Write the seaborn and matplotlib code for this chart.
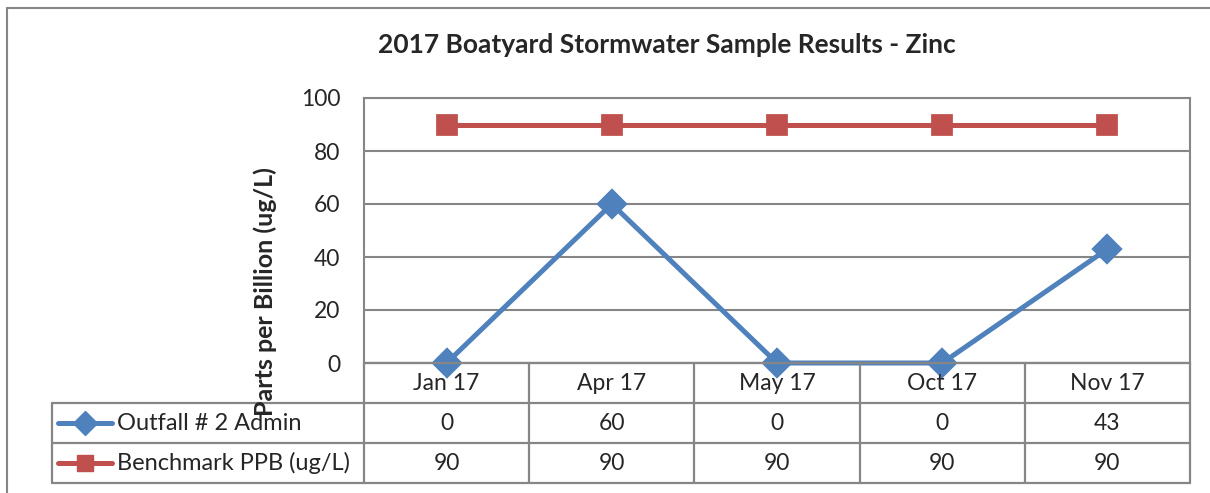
import seaborn as sns
import matplotlib.pyplot as plt
import pandas as pd
import numpy as np

months = ["Jan 17", "Apr 17", "May 17", "Oct 17", "Nov 17"]
outfall = [0, 60, 0, 0, 43]
benchmark = [90, 90, 90, 90, 90]
series_names = ["Outfall # 2 Admin", "Benchmark PPB (ug/L)"]
colors = ["#4F81BD", "#C0504D"]
marker_styles = ["D", "s"]

df = pd.DataFrame({
    "month": months * 2,
    "value": outfall + benchmark,
    "series": [series_names[0]] * len(months) + [series_names[1]] * len(months),
})

sns.set_style("white")
plt.rcParams["font.family"] = ["Lato", "DejaVu Sans"]
grid_col = "#868686"
fs = 16.5

W, H = 1210, 493
fig = plt.figure(figsize=(W / 100, H / 100), dpi=100)

# plot area in pixel terms
left, right, top, bottom = 364, 1190, 98, 363
ax = fig.add_axes([left / W, 1 - bottom / H, (right - left) / W, (bottom - top) / H])

sns.pointplot(data=df, x="month", y="value", hue="series", palette=colors,
              markers=marker_styles, linestyles="-", errorbar=None,
              markersize=13, linewidth=3.6, legend=False, ax=ax)
ax.set_ylim(0, 100)
ax.set_xlim(-0.5, len(months) - 0.5)
ax.set_yticks(np.arange(0, 101, 20))
ax.yaxis.grid(True, color=grid_col, linewidth=1.5)
ax.set_axisbelow(True)
ax.set_xticks([])
ax.set_xlabel("")
ax.set_ylabel("")
ax.tick_params(axis="y", labelsize=fs, pad=17, length=0)
for s in ax.spines.values():
    s.set_color(grid_col)
    s.set_linewidth(1.5)
for ln in ax.lines:
    ln.set_clip_on(False)
for c in ax.collections:
    c.set_clip_on(False)

# data table below the plot
row_h = 40
tab_left = 52
ncat = len(months)
cw = (right - left) / ncat
tx0 = -0.5 - (left - tab_left) / cw
axt = fig.add_axes([tab_left / W, 1 - (bottom + 3 * row_h) / H,
                    (right - tab_left) / W, 3 * row_h / H])
axt.set_xlim(tx0, ncat - 0.5)
axt.set_ylim(3, 0)
axt.axis("off")
lw = 1.6
for i in range(ncat + 1):
    axt.plot([i - 0.5, i - 0.5], [0, 3], color=grid_col, lw=lw, clip_on=False)
axt.plot([-0.5, ncat - 0.5], [0, 0], color=grid_col, lw=lw, clip_on=False)
for r in (1, 2, 3):
    axt.plot([tx0, ncat - 0.5], [r, r], color=grid_col, lw=lw, clip_on=False)
axt.plot([tx0, tx0], [1, 3], color=grid_col, lw=lw, clip_on=False)

for i, m in enumerate(months):
    axt.text(i, 0.5, m, ha="center", va="center", fontsize=fs)
for r, vals in enumerate([outfall, benchmark], start=1):
    for i, v in enumerate(vals):
        axt.text(i, r + 0.5, str(v), ha="center", va="center", fontsize=fs)

# legend keys inside the table
px = 1 / cw
for r, (name, col, mk) in enumerate(zip(series_names, colors, marker_styles), start=1):
    x0 = tx0 + 6 * px
    x1 = tx0 + 60 * px
    axt.plot([x0, x1], [r + 0.5, r + 0.5], color=col, lw=3.6, solid_capstyle="round",
             clip_on=False)
    axt.plot([(x0 + x1) / 2], [r + 0.5], marker=mk, color=col, markersize=12,
             clip_on=False)
    axt.text(tx0 + 65 * px, r + 0.5, name, ha="left", va="center", fontsize=17)

fig.text(667 / W, 1 - 45 / H, "2017 Boatyard Stormwater Sample Results - Zinc",
         ha="center", va="center", fontsize=19, fontweight="bold")
fig.text(265 / W, 1 - 292 / H, "Parts per Billion (ug/L)", rotation=90,
         ha="center", va="center", fontsize=18, fontweight="bold")

# chart border
fig.add_artist(plt.Line2D([7 / W, 7 / W], [0, 1 - 8 / H], color=grid_col, lw=1.5))
fig.add_artist(plt.Line2D([7 / W, 1], [1 - 8 / H, 1 - 8 / H], color=grid_col, lw=1.5))

plt.savefig("out.png", dpi=100)
